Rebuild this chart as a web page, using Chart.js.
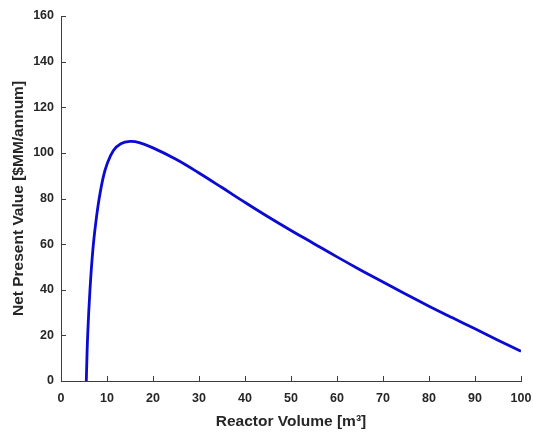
<!DOCTYPE html>
<html>
<head>
<meta charset="utf-8">
<script src="https://cdn.jsdelivr.net/npm/chart.js@4.4.1/dist/chart.umd.min.js"></script>
<style>
  html, body { margin: 0; padding: 0; background: #ffffff; }
  #wrap { width: 533px; height: 432px; }
</style>
</head>
<body>
<div id="wrap"><canvas id="npv" width="533" height="432"></canvas></div>
<script>
// Reactor volume (m^3) and net present value ($MM/annum)
const reactorVolume = [5.5, 5.8, 6.3, 6.95, 7.6, 8.3, 9.2, 10, 11.4, 13, 15, 17, 20, 25, 30, 35, 40, 45, 50, 55, 60, 65, 70, 75, 80, 85, 90, 95, 100];
const netPresentValue = [0, 20, 40, 58, 70, 80, 89.5, 95, 101, 104, 105, 104.5, 102.2, 97.2, 91.2, 84.8, 78.3, 72, 66, 60.2, 54.4, 48.8, 43.4, 38, 32.8, 27.8, 22.9, 17.9, 13];
const xTicks = [0, 10, 20, 30, 40, 50, 60, 70, 80, 90, 100];
const yTicks = [0, 20, 40, 60, 80, 100, 120, 140, 160];

const axisColor = '#3c3c3c';
const labelColor = '#262626';
const fontFamily = '"Liberation Sans", Arial, Helvetica, sans-serif';

// Short tick marks pointing into the plot area
const inwardTicks = {
  id: 'inwardTicks',
  afterDraw(chart) {
    const { ctx, chartArea, scales } = chart;
    const len = 5;
    ctx.save();
    ctx.strokeStyle = axisColor;
    ctx.lineWidth = 1;
    ctx.beginPath();
    xTicks.forEach(v => {
      const px = Math.round(scales.x.getPixelForValue(v)) + 0.5;
      ctx.moveTo(px, chartArea.bottom);
      ctx.lineTo(px, chartArea.bottom - len);
    });
    yTicks.forEach(v => {
      const py = Math.round(scales.y.getPixelForValue(v)) + 0.5;
      ctx.moveTo(chartArea.left, py);
      ctx.lineTo(chartArea.left + len, py);
    });
    ctx.stroke();
    ctx.restore();
  }
};

new Chart(document.getElementById('npv'), {
  type: 'scatter',
  data: {
    datasets: [{
      data: reactorVolume.map((v, i) => ({ x: v, y: netPresentValue[i] })),
      showLine: true,
      borderColor: '#0a0ad2',
      borderWidth: 2.8,
      pointRadius: 0,
      tension: 0.4,
      fill: false
    }]
  },
  options: {
    responsive: false,
    animation: false,
    layout: { padding: { left: 0, top: 16, right: 12, bottom: 0 } },
    plugins: { legend: { display: false }, tooltip: { enabled: false } },
    scales: {
      x: {
        type: 'linear',
        min: 0, max: 100,
        afterBuildTicks: s => { s.ticks = xTicks.map(v => ({ value: v })); },
        afterFit: s => { s.height = 51; s.paddingLeft = 0; s.paddingRight = 0; },
        grid: { display: false, drawTicks: false },
        border: { display: true, color: axisColor, width: 1 },
        ticks: {
          color: labelColor,
          padding: 10,
          maxRotation: 0,
          font: { family: fontFamily, size: 12.5, weight: 'bold' }
        },
        title: {
          display: true,
          text: 'Reactor Volume [m³]',
          color: labelColor,
          padding: { top: 0, bottom: 1 },
          font: { family: fontFamily, size: 15.5, weight: 'bold' }
        }
      },
      y: {
        type: 'linear',
        min: 0, max: 160,
        afterBuildTicks: s => { s.ticks = yTicks.map(v => ({ value: v })); },
        afterFit: s => { s.width = 61; s.paddingTop = 0; s.paddingBottom = 0; },
        grid: { display: false, drawTicks: false },
        border: { display: true, color: axisColor, width: 1 },
        ticks: {
          color: labelColor,
          padding: 7,
          font: { family: fontFamily, size: 12.5, weight: 'bold' }
        },
        title: {
          display: true,
          text: 'Net Present Value [$MM/annum]',
          color: labelColor,
          padding: { top: 9, bottom: 0 },
          font: { family: fontFamily, size: 15.5, weight: 'bold' }
        }
      }
    }
  },
  plugins: [inwardTicks]
});
</script>
</body>
</html>
